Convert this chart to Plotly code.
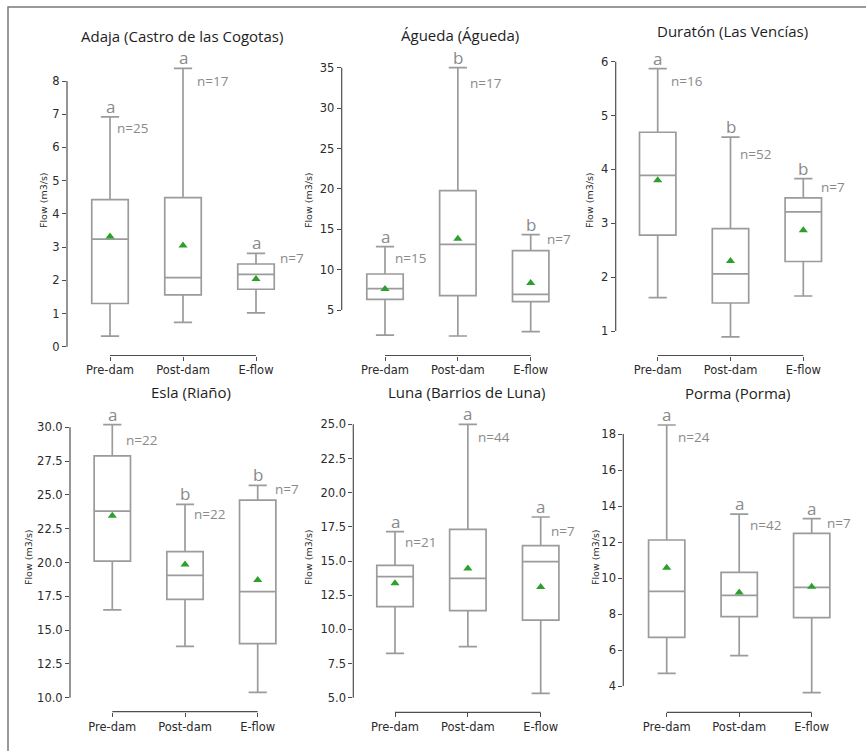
import plotly.graph_objects as go

# ---------------- data ----------------
categories = ["Pre-dam", "Post-dam", "E-flow"]

titles = [
    "Adaja (Castro de las Cogotas)",
    "Águeda (Águeda)",
    "Duratón (Las Vencías)",
    "Esla (Riaño)",
    "Luna (Barrios de Luna)",
    "Porma (Porma)",
]

# whisker ends, quartiles, medians and means (m3/s), one row per station
lower = [
    [0.32, 0.73, 1.02],
    [1.90, 1.78, 2.32],
    [1.62, 0.89, 1.65],
    [16.5, 13.8, 10.4],
    [8.24, 8.73, 5.32],
    [4.70, 5.69, 3.63],
]
q1 = [
    [1.30, 1.56, 1.73],
    [6.32, 6.77, 6.03],
    [2.78, 1.52, 2.29],
    [20.1, 17.27, 14.0],
    [11.66, 11.37, 10.68],
    [6.70, 7.85, 7.80],
]
median = [
    [3.24, 2.08, 2.18],
    [7.64, 13.13, 6.94],
    [3.89, 2.06, 3.21],
    [23.8, 19.05, 17.84],
    [13.85, 13.73, 14.95],
    [9.26, 9.04, 9.48],
]
q3 = [
    [4.43, 4.49, 2.49],
    [9.46, 19.78, 12.35],
    [4.69, 2.90, 3.47],
    [27.88, 20.8, 24.62],
    [14.68, 17.32, 16.12],
    [12.11, 10.31, 12.48],
]
upper = [
    [6.92, 8.38, 2.81],
    [12.84, 35.0, 14.33],
    [5.87, 4.60, 3.83],
    [30.2, 24.3, 25.7],
    [17.15, 25.0, 18.22],
    [18.5, 13.55, 13.3],
]
means = [
    [3.32, 3.05, 2.04],
    [7.60, 13.83, 8.34],
    [3.80, 2.30, 2.87],
    [23.45, 19.85, 18.7],
    [13.37, 14.46, 13.10],
    [10.57, 9.19, 9.52],
]
counts = [
    [25, 17, 7],
    [15, 17, 7],
    [16, 52, 7],
    [22, 22, 7],
    [21, 44, 7],
    [24, 42, 7],
]
groups = [
    ["a", "a", "a"],
    ["a", "b", "b"],
    ["a", "b", "b"],
    ["a", "b", "b"],
    ["a", "a", "a"],
    ["a", "a", "a"],
]
ytick_vals = [
    [0, 1, 2, 3, 4, 5, 6, 7, 8],
    [5, 10, 15, 20, 25, 30, 35],
    [1, 2, 3, 4, 5, 6],
    [10.0, 12.5, 15.0, 17.5, 20.0, 22.5, 25.0, 27.5, 30.0],
    [5.0, 7.5, 10.0, 12.5, 15.0, 17.5, 20.0, 22.5, 25.0],
    [4, 6, 8, 10, 12, 14, 16, 18],
]
ytick_fmt = ["{:g}", "{:g}", "{:g}", "{:.1f}", "{:.1f}", "{:g}"]

# ---------------- layout (pixels in an 866 x 751 page) ----------------
W, H = 866, 751
# y-spine x, first / last category x, two reference ticks (value, pixel y), x-spine y, top of plot area
panels = [
    dict(ysx=67.0, c0=110.0, c2=256.0, va=0, pa=346.7, vb=8, pb=81.0, xsy=355.5, top=52),
    dict(ysx=341.7, c0=385.0, c2=530.7, va=5, pa=310.0, vb=35, pb=67.7, xsy=355.5, top=52),
    dict(ysx=615.7, c0=657.7, c2=803.3, va=1, pa=331.0, vb=6, pb=61.7, xsy=355.5, top=52),
    dict(ysx=70.0, c0=112.3, c2=257.7, va=10, pa=697.7, vb=30, pb=427.3, xsy=711.7, top=410),
    dict(ysx=353.3, c0=395.0, c2=540.7, va=5, pa=697.7, vb=25, pb=424.3, xsy=712.3, top=410),
    dict(ysx=623.3, c0=666.7, c2=811.7, va=4, pa=686.0, vb=18, pb=434.0, xsy=712.3, top=410),
]
title_pos = [(181.5, 36), (460, 35), (732, 31), (190.5, 392), (466.5, 392), (738.3, 393)]
ytitle_pos = [(43, 200), (308, 200), (589, 200), (28, 557), (308, 557), (595, 557)]
# n-label placement: offset from category centre (category units) and height (m3/s)
n_dx = [
    [0.07, 0.16, 0.30],
    [0.11, 0.14, 0.20],
    [0.16, 0.10, 0.22],
    [0.16, 0.09, 0.21],
    [0.11, 0.11, 0.12],
    [0.13, 0.12, 0.18],
]
n_y = [
    [6.59, 8.0, 2.68],
    [11.4, 33.1, 13.75],
    [5.65, 4.29, 3.67],
    [29.06, 23.59, 25.44],
    [16.41, 24.05, 17.2],
    [17.85, 12.94, 13.04],
]

BOX_GREY = "#9b9b9b"
LABEL_GREY = "#8a8a8a"
AXIS_GREY = "#4d4d4d"
TEXT_DARK = "#2b2b2b"
MEAN_GREEN = "#2ca02c"
TICK_FONT = dict(family="DejaVu Sans", size=11.5, color=TEXT_DARK)
ANNO_FONT = "Open Sans"

fig = go.Figure()
layout_axes = {}
shapes = []
annotations = []

for i, p in enumerate(panels):
    k = "" if i == 0 else str(i + 1)
    xname, yname = "x" + k, "y" + k

    sx = (p["c2"] - p["c0"]) / 2.0
    right_px = min(p["c2"] + 0.7 * sx, W)
    xr = [-(p["c0"] - p["ysx"]) / sx, 2.0 + (right_px - p["c2"]) / sx]
    xdom = [p["ysx"] / W, right_px / W]

    sy = (p["pa"] - p["pb"]) / (p["vb"] - p["va"])
    yr = [p["va"] - (p["xsy"] - p["pa"]) / sy, p["va"] + (p["pa"] - p["top"]) / sy]
    ydom = [1 - p["xsy"] / H, 1 - p["top"] / H]

    fig.add_trace(go.Box(
        x=[0, 1, 2],
        lowerfence=lower[i], q1=q1[i], median=median[i], q3=q3[i], upperfence=upper[i],
        width=0.5, whiskerwidth=0.5,
        fillcolor="white", line=dict(color=BOX_GREY, width=1.7),
        boxpoints=False, hoverinfo="skip",
        xaxis=xname, yaxis=yname,
    ))
    fig.add_trace(go.Scatter(
        x=[0, 1, 2], y=means[i], mode="markers",
        marker=dict(symbol="triangle-up", size=8, color=MEAN_GREEN),
        hoverinfo="skip", xaxis=xname, yaxis=yname,
    ))

    layout_axes["xaxis" + k] = dict(
        domain=xdom, range=xr, anchor=yname,
        tickmode="array", tickvals=[0, 1, 2], ticktext=categories,
        ticks="outside", ticklen=4, tickwidth=1, tickcolor=AXIS_GREY,
        tickfont=TICK_FONT, showline=False, showgrid=False, zeroline=False,
    )
    layout_axes["yaxis" + k] = dict(
        domain=ydom, range=yr, anchor=xname,
        tickmode="array", tickvals=ytick_vals[i],
        ticktext=[ytick_fmt[i].format(v) for v in ytick_vals[i]],
        ticks="outside", ticklen=4, tickwidth=1, tickcolor=AXIS_GREY,
        tickfont=TICK_FONT, showline=False, showgrid=False, zeroline=False,
    )

    # trimmed spines: y from first to last tick, x from first to last category
    tmin, tmax = min(ytick_vals[i]), max(ytick_vals[i])
    shapes.append(dict(
        type="line", xref=xname + " domain", yref=yname + " domain",
        x0=0, x1=0,
        y0=(tmin - yr[0]) / (yr[1] - yr[0]), y1=(tmax - yr[0]) / (yr[1] - yr[0]),
        line=dict(color=AXIS_GREY, width=1.2),
    ))
    shapes.append(dict(
        type="line", xref=xname + " domain", yref=yname + " domain",
        y0=0, y1=0,
        x0=(0 - xr[0]) / (xr[1] - xr[0]), x1=(2 - xr[0]) / (xr[1] - xr[0]),
        line=dict(color=AXIS_GREY, width=1.2),
    ))

    # panel title and y-axis title
    tx, ty = title_pos[i]
    annotations.append(dict(
        text=titles[i], x=tx / W, y=1 - ty / H, xref="paper", yref="paper",
        xanchor="center", yanchor="middle", showarrow=False, borderpad=0,
        font=dict(family=ANNO_FONT, size=15, color="#1e1e1e"),
    ))
    ax_, ay_ = ytitle_pos[i]
    annotations.append(dict(
        text="Flow (m3/s)", x=ax_ / W, y=1 - ay_ / H, xref="paper", yref="paper",
        xanchor="center", yanchor="middle", showarrow=False, textangle=-90,
        font=dict(family="DejaVu Sans", size=9.5, color=TEXT_DARK),
    ))

    # group letters above the whiskers and sample sizes beside them
    for j in range(3):
        annotations.append(dict(
            text=groups[i][j], x=j, y=upper[i][j], xref=xname, yref=yname,
            xanchor="center", yanchor="bottom", showarrow=False, yshift=-2,
            borderpad=0,
            font=dict(family=ANNO_FONT, size=17, color=LABEL_GREY),
        ))
        annotations.append(dict(
            text="n=%d" % counts[i][j], x=j + n_dx[i][j], y=n_y[i][j],
            xref=xname, yref=yname, xanchor="left", yanchor="middle",
            showarrow=False,
            font=dict(family=ANNO_FONT, size=13.5, color=LABEL_GREY),
        ))

# outer frame
shapes.append(dict(
    type="rect", xref="paper", yref="paper",
    x0=8 / W, x1=1.2, y0=-0.2, y1=1 - 7 / H,
    line=dict(color="#7a7a7a", width=1.5), fillcolor="rgba(0,0,0,0)",
))

fig.update_layout(
    width=W, height=H,
    margin=dict(l=0, r=0, t=0, b=0),
    paper_bgcolor="white", plot_bgcolor="rgba(0,0,0,0)",
    showlegend=False,
    shapes=shapes, annotations=annotations,
    **layout_axes,
)

fig.write_html("out.html")
